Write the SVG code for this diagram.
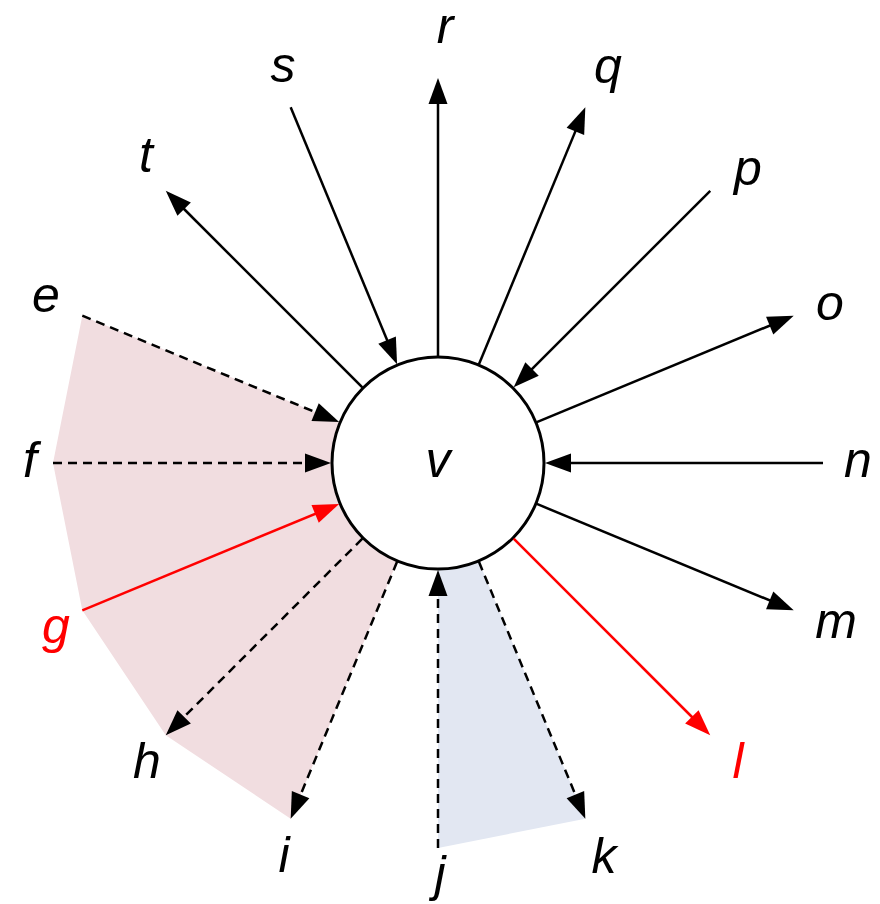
<svg xmlns="http://www.w3.org/2000/svg" width="880" height="904" viewBox="0 0 880 904">
<style>
.lbl{font-family:"Liberation Sans",Arial,sans-serif;font-style:italic;font-size:50px;fill:#000;text-anchor:middle}
.red{fill:#ff0000}
.e{fill:none;stroke:#000;stroke-width:2.5}
.r{stroke:#ff0000}
.d{stroke-dasharray:9 6}
.ah{marker-end:url(#arr)}
.ahr{marker-end:url(#arrR)}
</style>
<defs>
<marker id="arr" markerUnits="userSpaceOnUse" markerWidth="26" markerHeight="20" refX="14" refY="9.5" orient="auto" overflow="visible"><path d="M0,0 L26,9.5 L0,19 Z" fill="#000"/></marker>
<marker id="arrR" markerUnits="userSpaceOnUse" markerWidth="26" markerHeight="20" refX="14" refY="9.5" orient="auto" overflow="visible"><path d="M0,0 L26,9.5 L0,19 Z" fill="#ff0000"/></marker>
</defs>
<rect width="880" height="904" fill="#fff"/>
<g id="regions">
<polygon points="82.31,315.67 53,463 82.31,610.33 165.76,735.24 290.67,818.69 397.05,561.85 438,463 339.15,422.05" fill="#f1dde0"/>
<polygon points="438,848 585.33,818.69 478.95,561.85 438,463" fill="#e2e7f2"/>
</g>
<g id="v">
<circle cx="438" cy="463" r="106" fill="#fff" stroke="#000" stroke-width="3"/>
<text class="lbl" x="438" y="477">v</text>
</g>
<g id="connectors">
<line class="e ah" x1="438" y1="356" x2="438" y2="90"/>
<line class="e ah" x1="478.95" y1="364.15" x2="580.74" y2="118.39"/>
<line class="e ah" x1="536.85" y1="422.05" x2="782.61" y2="320.26"/>
<line class="e ah" x1="536.85" y1="503.95" x2="782.61" y2="605.74"/>
<line class="e r ahr" x1="513.66" y1="538.66" x2="701.75" y2="726.75"/>
<line class="e d ah" x1="478.95" y1="561.85" x2="580.74" y2="807.61"/>
<line class="e d ah" x1="397.05" y1="561.85" x2="295.26" y2="807.61"/>
<line class="e d ah" x1="362.34" y1="538.66" x2="174.25" y2="726.75"/>
<line class="e ah" x1="362.34" y1="387.34" x2="174.25" y2="199.25"/>
<line class="e ah" x1="290.67" y1="107.31" x2="392.46" y2="353.06"/>
<line class="e ah" x1="710.24" y1="190.76" x2="522.15" y2="378.85"/>
<line class="e ah" x1="823" y1="463" x2="557" y2="463"/>
<line class="e d ah" x1="82.31" y1="315.67" x2="328.06" y2="417.46"/>
<line class="e d ah" x1="53" y1="463" x2="319" y2="463"/>
<line class="e r ahr" x1="82.31" y1="610.33" x2="328.06" y2="508.54"/>
<line class="e d ah" x1="438" y1="848" x2="438" y2="582"/>
</g>
<g id="n"><text class="lbl" x="858" y="477">n</text></g>
<g id="o"><text class="lbl" x="830" y="320">o</text></g>
<g id="p"><text class="lbl" x="748" y="185">p</text></g>
<g id="q"><text class="lbl" x="608" y="83">q</text></g>
<g id="r"><text class="lbl" x="445" y="43">r</text></g>
<g id="s"><text class="lbl" x="283" y="82">s</text></g>
<g id="t"><text class="lbl" x="146" y="172">t</text></g>
<g id="e"><text class="lbl" x="46" y="312">e</text></g>
<g id="f"><text class="lbl" x="30" y="477">f</text></g>
<g id="g"><text class="lbl red" x="56" y="643">g</text></g>
<g id="h"><text class="lbl" x="147" y="778">h</text></g>
<g id="i"><text class="lbl" x="284" y="872">i</text></g>
<g id="j"><text class="lbl" x="440" y="891">j</text></g>
<g id="k"><text class="lbl" x="604" y="873">k</text></g>
<g id="l"><text class="lbl red" x="738" y="778">l</text></g>
<g id="m"><text class="lbl" x="836" y="638">m</text></g>
</svg>
